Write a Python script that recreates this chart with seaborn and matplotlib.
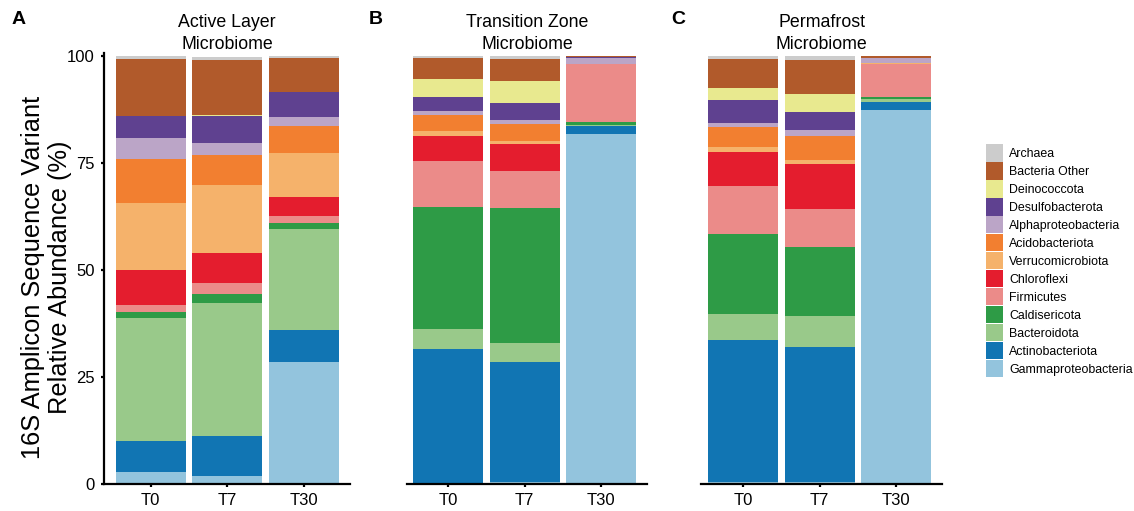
import numpy as np
import pandas as pd
import matplotlib
matplotlib.use("Agg")
import matplotlib.pyplot as plt
from matplotlib.patches import Patch
import seaborn as sns

plt.rcParams['font.family'] = ['Liberation Sans', 'DejaVu Sans']

# ---------------- data ----------------
times = ["T0", "T7", "T30"]

# stacking order, bottom -> top
categories = ["Gammaproteobacteria", "Actinobacteriota", "Bacteroidota", "Caldisericota",
              "Firmicutes", "Chloroflexi", "Verrucomicrobiota", "Acidobacteriota",
              "Alphaproteobacteria", "Desulfobacterota", "Deinococcota", "Bacteria Other",
              "Archaea"]

colors = ["#93c4dd", "#1175b3", "#99c98a", "#2e9b46",
          "#eb8b89", "#e41d2e", "#f5b26b", "#f27f30",
          "#bba5c7", "#5f4190", "#e8e98f", "#b15a2b",
          "#cccccc"]

panel_titles = ["Active Layer\nMicrobiome", "Transition Zone\nMicrobiome", "Permafrost\nMicrobiome"]
panel_letters = ["A", "B", "C"]

# relative abundance (%) per time point, in the category order above
active_T0 = [2.9, 7.2, 28.7, 1.4, 1.6, 8.2, 15.6, 10.3, 4.9, 5.1, 0.0, 13.3, 0.8]
active_T7 = [1.9, 9.4, 31.0, 2.1, 2.6, 7.0, 15.8, 7.0, 2.8, 6.3, 0.15, 13.0, 0.7]
active_T30 = [28.5, 7.5, 23.6, 1.4, 1.6, 4.4, 10.3, 6.3, 2.1, 5.8, 0.0, 8.0, 0.5]

transition_T0 = [0.3, 31.3, 4.6, 28.5, 10.7, 5.9, 1.1, 3.8, 0.9, 3.3, 4.2, 4.9, 0.5]
transition_T7 = [0.5, 28.0, 4.5, 31.5, 8.6, 6.3, 0.7, 4.0, 0.9, 4.0, 5.1, 5.1, 0.8]
transition_T30 = [81.7, 1.9, 0.2, 0.7, 13.5, 0.1, 0.0, 0.0, 1.4, 0.2, 0.0, 0.3, 0.0]

permafrost_T0 = [0.5, 33.2, 6.0, 18.7, 11.2, 7.9, 1.2, 4.7, 0.9, 5.4, 2.8, 6.7, 0.8]
permafrost_T7 = [0.5, 31.5, 7.3, 16.1, 8.8, 10.5, 1.0, 5.6, 1.4, 4.2, 4.2, 7.9, 1.0]
permafrost_T30 = [87.3, 1.9, 0.7, 0.5, 7.7, 0.0, 0.2, 0.0, 1.2, 0.0, 0.0, 0.5, 0.0]

panels = [
    [active_T0, active_T7, active_T30],
    [transition_T0, transition_T7, transition_T30],
    [permafrost_T0, permafrost_T7, permafrost_T30],
]

# ---------------- figure ----------------
W, H = 1134, 511
fig = plt.figure(figsize=(W / 100, H / 100), dpi=100)

ax_px = [(104, 246, -0.61), (407, 240, -0.54), (701, 241, -0.55)]
bottom_px, height_px = 26.7, 431.2

for p, (vals, (lx, wx, xl), title, letter) in enumerate(zip(panels, ax_px, panel_titles, panel_letters)):
    ax = fig.add_axes([lx / W, bottom_px / H, wx / W, height_px / H])
    rows = []
    for t, v in zip(times, vals):
        cum = np.cumsum(v)
        for c, val, cu in zip(categories, v, cum):
            rows.append({"time": t, "category": c, "value": val, "cum": cu})
    df = pd.DataFrame(rows)
    # draw from top of stack down so that lower segments overlay
    for c, col in reversed(list(zip(categories, colors))):
        sub = df[df["category"] == c]
        sns.barplot(data=sub, x="time", y="cum", order=times, color=col,
                    saturation=1, width=0.915, errorbar=None, linewidth=0, ax=ax)
    ax.set_xlim(xl, 2.60)
    ax.set_ylim(0, 100.6)
    ax.set_xlabel("")
    ax.set_ylabel("")
    for s in ["top", "right"]:
        ax.spines[s].set_visible(False)
    ax.spines["bottom"].set_linewidth(1.6)
    ax.spines["left"].set_linewidth(1.6)
    ax.tick_params(axis="x", length=2.5, width=1.6, labelsize=12, pad=4, color="black")
    if p == 0:
        ax.set_yticks([0, 25, 50, 75, 100])
        ax.tick_params(axis="y", length=2.5, width=1.6, labelsize=12, pad=4)
    else:
        ax.spines["left"].set_visible(False)
        ax.set_yticks([])
    ax.set_title(title, fontsize=12.8, pad=2.5, linespacing=1.42)
    ax.set_facecolor("none")

for letter, x in zip(panel_letters, [19, 376, 678]):
    fig.text(x / W, 1 - 19 / H, letter, fontsize=14, fontweight="bold", ha="center", va="center")

fig.text(46.5 / W, 1 - 277 / H, "16S Amplicon Sequence Variant\nRelative Abundance (%)",
         rotation=90, ha="center", va="center", fontsize=18.3, linespacing=1.18)

handles = [Patch(facecolor=c, edgecolor="none") for c in reversed(colors)]
labels = list(reversed(categories))
fig.legend(handles, labels, loc="upper left", bbox_to_anchor=(986 / W, 1 - 144.5 / H),
           frameon=False, fontsize=8.9, handlelength=1.375, handleheight=1.74,
           labelspacing=0.08, handletextpad=0.5, borderpad=0, borderaxespad=0)

fig.savefig("out.png", dpi=100)
